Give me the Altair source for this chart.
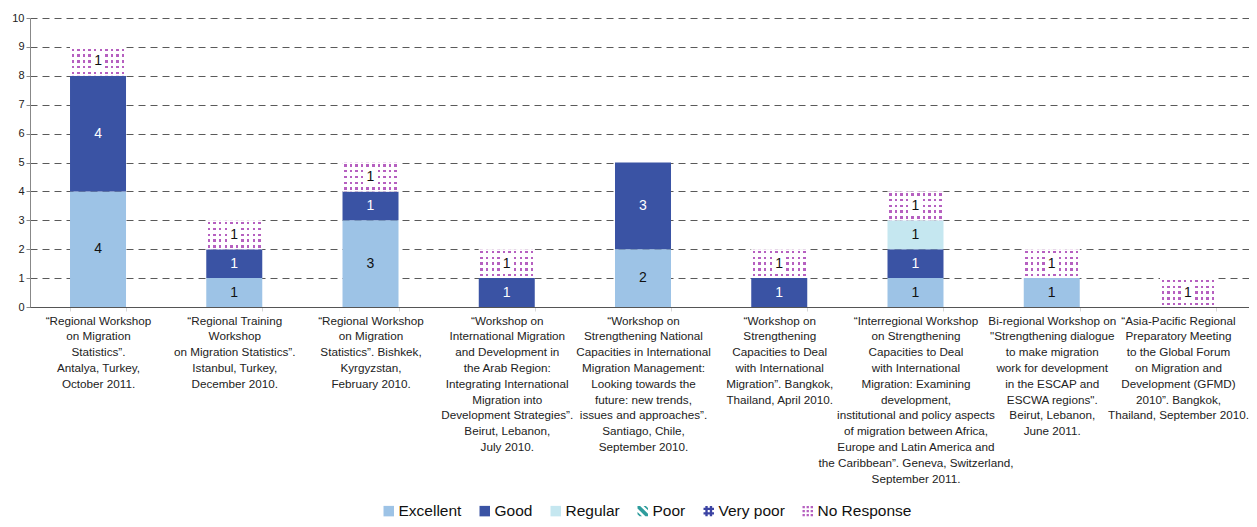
import altair as alt
import pandas as pd

workshops = [
    "\u201cRegional Workshop\non Migration\nStatistics\u201d.\nAntalya, Turkey,\nOctober 2011.",
    "\u201cRegional Training\nWorkshop\non Migration Statistics\u201d.\nIstanbul, Turkey,\nDecember 2010.",
    "\u201cRegional Workshop\non Migration\nStatistics\u201d. Bishkek,\nKyrgyzstan,\nFebruary 2010.",
    "\u201cWorkshop on\nInternational Migration\nand Development in\nthe Arab Region:\nIntegrating International\nMigration into\nDevelopment Strategies\u201d.\nBeirut, Lebanon,\nJuly 2010.",
    "\u201cWorkshop on\nStrengthening National\nCapacities in International\nMigration Management:\nLooking towards the\nfuture: new trends,\nissues and approaches\u201d.\nSantiago, Chile,\nSeptember 2010.",
    "\u201cWorkshop on\nStrengthening\nCapacities to Deal\nwith International\nMigration\u201d. Bangkok,\nThailand, April 2010.",
    "\u201cInterregional Workshop\non Strengthening\nCapacities to Deal\nwith International\nMigration: Examining\ndevelopment,\ninstitutional and policy aspects\nof migration between Africa,\nEurope and Latin America and\nthe Caribbean\u201d. Geneva, Switzerland,\nSeptember 2011.",
    "Bi-regional Workshop on\n\"Strengthening dialogue\nto make migration\nwork for development\nin the ESCAP and\nESCWA regions\".\nBeirut, Lebanon,\nJune 2011.",
    "\u201cAsia-Pacific Regional\nPreparatory Meeting\nto the Global Forum\non Migration and\nDevelopment (GFMD)\n2010\u201d. Bangkok,\nThailand, September 2010.",
]

categories = ["Excellent", "Good", "Regular", "Poor", "Very poor", "No Response"]
excellent = [4, 1, 3, 0, 2, 0, 1, 1, 0]
good = [4, 1, 1, 1, 3, 1, 1, 0, 0]
regular = [0, 0, 0, 0, 0, 0, 1, 0, 0]
poor = [0, 0, 0, 0, 0, 0, 0, 0, 0]
very_poor = [0, 0, 0, 0, 0, 0, 0, 0, 0]
no_response = [1, 1, 1, 1, 0, 1, 1, 1, 1]
y_ticks = [0, 1, 2, 3, 4, 5, 6, 7, 8, 9, 10]

series = [excellent, good, regular, poor, very_poor, no_response]

# styles
FONT = "Liberation Sans"
colors = ["#9DC3E6", "#3A53A4", "#C5E7F0", "#2E9C9C", "#3B43A3", "#B660C0"]
DOT = "#B660C0"
POOR_PATH = ("M-1,-1L-0.5,-1L1,0.5L1,1L0.5,1L-1,-0.5Z "
             "M0.15,-1L0.6,-1L1,-0.6L1,-0.15Z "
             "M-1,0.15L-0.15,1L-0.6,1L-1,0.6Z")
VPOOR_PATH = ("M-0.65,-1L-0.2,-1L-0.2,1L-0.65,1Z M0.2,-1L0.65,-1L0.65,1L0.2,1Z "
              "M-1,-0.65L1,-0.65L1,-0.2L-1,-0.2Z M-1,0.2L1,0.2L1,0.65L-1,0.65Z")
NR_PATH = ("M-1,-1L-0.55,-1L-0.55,-0.55L-1,-0.55Z M-0.22,-1L0.22,-1L0.22,-0.55L-0.22,-0.55Z "
           "M0.55,-1L1,-1L1,-0.55L0.55,-0.55Z "
           "M-1,-0.22L-0.55,-0.22L-0.55,0.22L-1,0.22Z M-0.22,-0.22L0.22,-0.22L0.22,0.22L-0.22,0.22Z "
           "M0.55,-0.22L1,-0.22L1,0.22L0.55,0.22Z "
           "M-1,0.55L-0.55,0.55L-0.55,1L-1,1Z M-0.22,0.55L0.22,0.55L0.22,1L-0.22,1Z "
           "M0.55,0.55L1,0.55L1,1L0.55,1Z")
shapes = ["square", "square", "square", POOR_PATH, VPOOR_PATH, NR_PATH]


def stripe_stops(n, start, end, c_on, c_off):
    stops = []
    for k in range(n):
        a = k / n
        b = (k + start) / n
        c = (k + end) / n
        d = (k + 1) / n
        stops += [
            alt.GradientStop(offset=a, color=c_off),
            alt.GradientStop(offset=b, color=c_off),
            alt.GradientStop(offset=b, color=c_on),
            alt.GradientStop(offset=c, color=c_on),
            alt.GradientStop(offset=c, color=c_off),
            alt.GradientStop(offset=d, color=c_off),
        ]
    return stops


col_grad = alt.LinearGradient(gradient="linear", x1=0, y1=0, x2=1, y2=0,
                              stops=stripe_stops(10, 0.28, 0.72, DOT, "#ffffff"))
row_grad = alt.LinearGradient(gradient="linear", x1=0, y1=0, x2=0, y2=1,
                              stops=stripe_stops(5, 0.3, 0.72, "rgba(255,255,255,0)", "#ffffff"))

rows = []
for i, w in enumerate(workshops):
    for j, (cat, vals) in enumerate(zip(categories, series)):
        if vals[i] > 0:
            rows.append({"workshop": w, "category": cat, "value": vals[i], "order": j})
df = pd.DataFrame(rows)

base = alt.Chart(df).transform_stack(
    stack="value", groupby=["workshop"], as_=["y0", "y1"],
    sort=[alt.SortField("order", order="ascending")],
).transform_calculate(mid="(datum.y0 + datum.y1) / 2")

x_enc = alt.X(
    "workshop:N", sort=workshops, title=None,
    scale=alt.Scale(paddingInner=0.589, paddingOuter=0.268, align=0.548),
    axis=alt.Axis(
        labelExpr="split(datum.label, '\\n')", labelAngle=0, labelLimit=0,
        labelOverlap=False, labelLineHeight=15.8, labelPadding=4, labelFontSize=11.7,
        labelFont=FONT, labelColor="#222222", labelBaseline="top",
        labelOffset={"condition": {"test": "datum.index === 1", "value": -10}, "value": 0},
        tickBand="extent", tickSize=4, tickColor="#d8d8d8",
        domainColor="#555555", domainWidth=1.2, zindex=1,
    ),
)

y_axis = alt.Axis(values=y_ticks, grid=True, gridDash=[7, 5], gridColor="#5a5a5a",
                  gridWidth=1, domainColor="#888888", tickColor="#888888", tickSize=4,
                  labelFontSize=11, labelFont=FONT, labelColor="#222222", labelPadding=2)
y_scale = alt.Scale(domain=[0, 10], nice=False)


def y_of(field):
    return alt.Y(field, title=None, scale=y_scale, axis=y_axis)


color_scale = alt.Scale(domain=categories, range=colors)
legend = alt.Legend(title=None, orient="none", direction="horizontal",
                    legendX=351, legendY=485)

solid = base.transform_filter("datum.category != 'No Response'").mark_bar().encode(
    x=x_enc, y=y_of("y0:Q"), y2="y1:Q",
    color=alt.Color("category:N", scale=color_scale, legend=legend),
)

nr = base.transform_filter("datum.category == 'No Response'")
nr_cols = nr.mark_bar(fill=col_grad).encode(x=x_enc, y=y_of("y0:Q"), y2="y1:Q")
nr_rows = nr.mark_bar(fill=row_grad).encode(x=x_enc, y=y_of("y0:Q"), y2="y1:Q")

legend_pts = base.mark_point(filled=True, opacity=0).encode(
    x=x_enc, y=y_of("mid:Q"),
    color=alt.Color("category:N", scale=color_scale, legend=legend),
    shape=alt.Shape("category:N", scale=alt.Scale(domain=categories, range=shapes), legend=legend),
)

nr_box = nr.mark_point(shape="M-0.6,-1L0.6,-1L0.6,1L-0.6,1Z", filled=True, fill="white",
                       opacity=1, size=256, strokeWidth=0).encode(x=x_enc, y=y_of("mid:Q"))

labels = base.mark_text(fontSize=14, font=FONT).encode(
    x=x_enc, y=y_of("mid:Q"), text="value:Q",
    color=alt.condition("datum.category === 'Good'", alt.value("#ffffff"), alt.value("#111111")),
)

chart = alt.layer(solid, nr_cols, nr_rows, legend_pts, nr_box, labels).properties(
    width=1219, height=289,
    padding={"left": 22, "top": 10, "right": 0, "bottom": 212},
    autosize=alt.AutoSizeParams(type="none"),
).configure_view(stroke=None).configure_legend(
    symbolOpacity=1, labelFontSize=15.5, labelFont=FONT, labelColor="#111111",
    symbolSize=110, columnPadding=15, labelOffset=2, padding=0, symbolStrokeWidth=0,
)

chart.save("out.html", embed_options={"renderer": "svg", "actions": False})
